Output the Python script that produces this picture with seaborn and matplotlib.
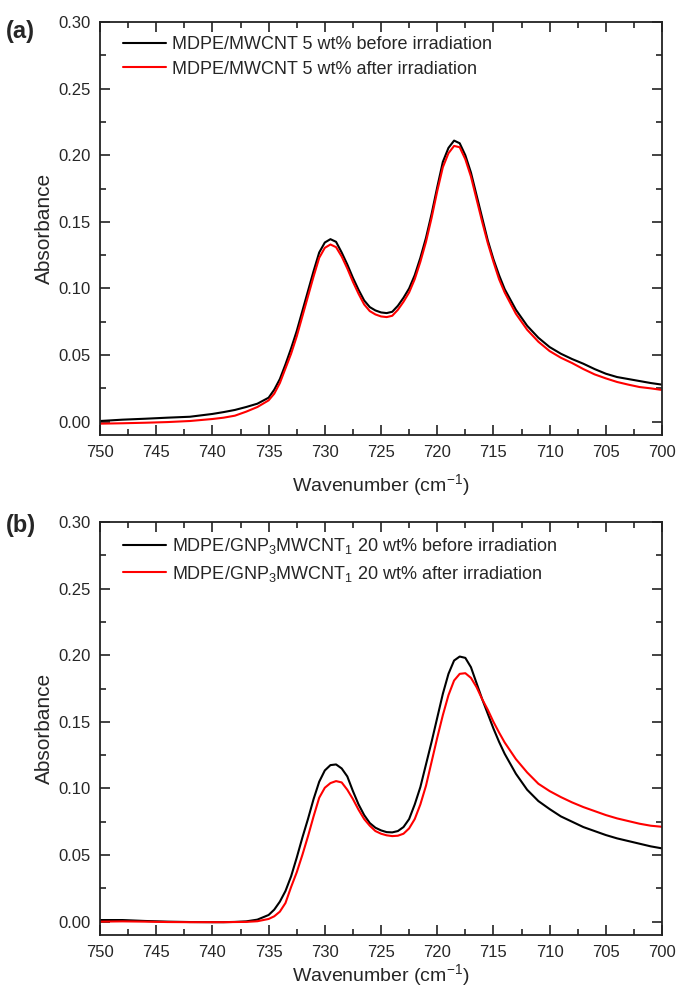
import numpy as np
import pandas as pd
import matplotlib
matplotlib.use('Agg')
import matplotlib.pyplot as plt
from matplotlib.ticker import MultipleLocator
import seaborn as sns

# wavenumber grid (cm-1) shared by all four spectra
wavenumber = [750, 748, 746, 744, 742, 740, 739, 738, 737, 736, 735,
              734.5, 734, 733.5, 733, 732.5, 732, 731.5, 731, 730.5, 730,
              729.5, 729, 728.5, 728, 727.5, 727, 726.5, 726, 725.5, 725,
              724.5, 724, 723.5, 723, 722.5, 722, 721.5, 721, 720.5, 720,
              719.5, 719, 718.5, 718, 717.5, 717, 716.5, 716, 715.5, 715,
              714.5, 714, 713, 712, 711, 710, 709, 708, 707, 706, 705,
              704, 703, 702, 701, 700]

# (a) MDPE/MWCNT 5 wt%
a_before = [0.0005, 0.0015, 0.0022, 0.003, 0.0037, 0.0058, 0.0072, 0.0088, 0.011, 0.0135, 0.018,
            0.024, 0.032, 0.043, 0.055, 0.068, 0.083, 0.098, 0.113, 0.127, 0.1345,
            0.137, 0.135, 0.127, 0.118, 0.108, 0.099, 0.091, 0.086, 0.0835, 0.082,
            0.0815, 0.0825, 0.087, 0.093, 0.100, 0.110, 0.123, 0.138, 0.156, 0.176,
            0.195, 0.2055, 0.211, 0.209, 0.200, 0.187, 0.170, 0.153, 0.136, 0.122,
            0.110, 0.0995, 0.084, 0.072, 0.063, 0.056, 0.051, 0.047, 0.0435, 0.0395, 0.036,
            0.0335, 0.032, 0.0305, 0.029, 0.0278]
a_after = [-0.0015, -0.0012, -0.0008, -0.0003, 0.0005, 0.002, 0.003, 0.0045, 0.0075, 0.011, 0.016,
           0.021, 0.029, 0.040, 0.051, 0.064, 0.079, 0.094, 0.109, 0.123, 0.1305,
           0.133, 0.131, 0.124, 0.115, 0.105, 0.096, 0.088, 0.083, 0.0805, 0.079,
           0.0785, 0.0795, 0.084, 0.090, 0.097, 0.107, 0.120, 0.135, 0.153, 0.173,
           0.191, 0.2015, 0.207, 0.206, 0.197, 0.184, 0.167, 0.150, 0.134, 0.120,
           0.107, 0.097, 0.081, 0.069, 0.060, 0.053, 0.048, 0.044, 0.0395, 0.0355, 0.0325,
           0.0298, 0.0278, 0.026, 0.025, 0.0238]

# (b) MDPE/GNP3MWCNT1 20 wt%
b_before = [0.0012, 0.0012, 0.0005, 0.0, -0.0003, -0.0004, -0.0004, -0.0002, 0.0002, 0.0015, 0.005,
            0.009, 0.015, 0.023, 0.034, 0.048, 0.063, 0.077, 0.092, 0.105, 0.1135,
            0.1175, 0.118, 0.115, 0.109, 0.098, 0.088, 0.080, 0.074, 0.0705, 0.0685,
            0.0672, 0.067, 0.068, 0.071, 0.077, 0.088, 0.101, 0.118, 0.135, 0.153,
            0.171, 0.186, 0.196, 0.199, 0.198, 0.191, 0.179, 0.167, 0.156, 0.145,
            0.135, 0.126, 0.111, 0.099, 0.0905, 0.0845, 0.079, 0.075, 0.071, 0.068, 0.065,
            0.0625, 0.0605, 0.0585, 0.0565, 0.055]
b_after = [0.0, 0.0002, 0.0, -0.0003, -0.0004, -0.0004, -0.0004, -0.0003, -0.0002, 0.0003, 0.002,
           0.004, 0.0075, 0.014, 0.026, 0.037, 0.050, 0.064, 0.079, 0.093, 0.1005,
           0.104, 0.1055, 0.1045, 0.099, 0.092, 0.084, 0.077, 0.072, 0.068, 0.066,
           0.0648, 0.0642, 0.0645, 0.066, 0.070, 0.077, 0.088, 0.102, 0.120, 0.138,
           0.155, 0.170, 0.181, 0.186, 0.1865, 0.183, 0.176, 0.167, 0.159, 0.150,
           0.142, 0.1345, 0.122, 0.112, 0.1035, 0.098, 0.0935, 0.0895, 0.086, 0.083, 0.080,
           0.0775, 0.0755, 0.0735, 0.072, 0.0712]

labels_a = ['MDPE/MWCNT 5 wt% before irradiation',
            'MDPE/MWCNT 5 wt% after irradiation']
labels_b = ['MDPE/GNP$_3$MWCNT$_1$ 20 wt% before irradiation',
            'MDPE/GNP$_3$MWCNT$_1$ 20 wt% after irradiation']

sns.set_theme(style='ticks')
plt.rcParams['font.family'] = ['Liberation Sans', 'DejaVu Sans']
plt.rcParams['mathtext.fontset'] = 'custom'
plt.rcParams['mathtext.rm'] = 'Liberation Sans'
plt.rcParams['mathtext.it'] = 'Liberation Sans'

fig = plt.figure(figsize=(6.79, 9.92), dpi=100)
ax1 = fig.add_axes([0.1473, 0.5615, 0.8277, 0.4163])
ax2 = fig.add_axes([0.1473, 0.0575, 0.8277, 0.4163])


def draw_panel(ax, before, after, labels, tag, ytag, xpad):
    df = pd.DataFrame({'wn': wavenumber * 2,
                       'abs': before + after,
                       'series': [labels[0]] * len(before) + [labels[1]] * len(after)})
    sns.lineplot(data=df, x='wn', y='abs', hue='series', ax=ax,
                 palette=['black', '#ff0000'], linewidth=1.5, estimator=None)
    ax.set_xlim(750, 700)
    ax.set_ylim(-0.01, 0.30)
    ax.xaxis.set_major_locator(MultipleLocator(5))
    ax.xaxis.set_minor_locator(MultipleLocator(2.5))
    ax.yaxis.set_major_locator(MultipleLocator(0.05))
    ax.yaxis.set_minor_locator(MultipleLocator(0.025))
    ax.yaxis.set_major_formatter(matplotlib.ticker.FormatStrFormatter('%.2f'))
    ax.tick_params(which='both', direction='in', top=True, right=True,
                   labelsize=12, width=1.2, color='#222222')
    ax.tick_params(which='major', length=7, pad=7)
    ax.tick_params(which='minor', length=4)
    for sp in ax.spines.values():
        sp.set_linewidth(1.3)
        sp.set_color('#222222')
    ax.set_xlabel('Wavenumber (cm$^{-1}$)', fontsize=14, labelpad=xpad)
    ax.set_ylabel('Absorbance', fontsize=15, labelpad=3)
    leg = ax.legend(loc='upper left', frameon=False, fontsize=13,
                    handlelength=2.4, handletextpad=0.3, labelspacing=0.4,
                    borderaxespad=0.4, bbox_to_anchor=(0.015, 1.0))
    for ln in leg.get_lines():
        ln.set_linewidth(1.5)
    fig.text(0.008, ytag, tag, fontsize=17, fontweight='bold', va='center')


draw_panel(ax1, a_before, a_after, labels_a, '(a)', 0.968, 9)
draw_panel(ax2, b_before, b_after, labels_b, '(b)', 0.470, 2)

fig.savefig('out.png', dpi=100)
